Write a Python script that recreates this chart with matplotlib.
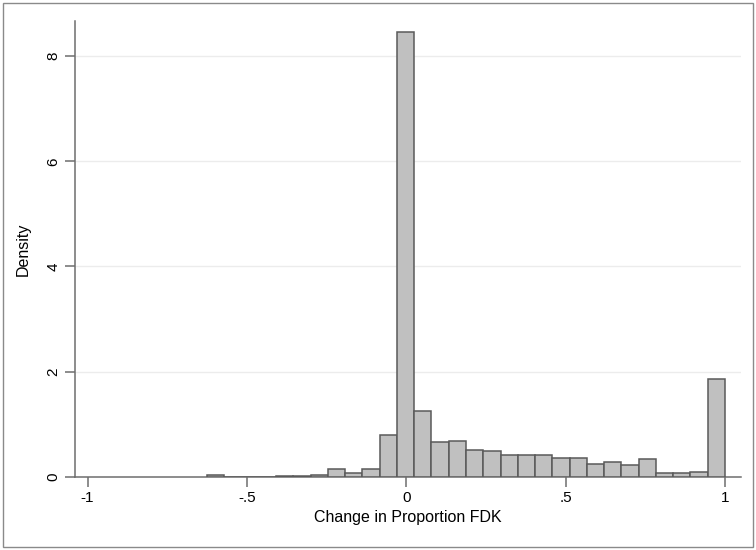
#histogram of change in proportion FDK, stata style
import numpy as np
import matplotlib.pyplot as plt
from matplotlib.patches import Rectangle

plt.rcParams['font.family'] = ['Liberation Sans', 'DejaVu Sans']

# 30 bins from -.625 to 1
bin_start = -0.625
bin_end = 1.0
n_bins = 30
density = [0.03, 0, 0, 0, 0.013, 0.015, 0.04, 0.14, 0.07, 0.14,
           0.79, 8.45, 1.25, 0.67, 0.68, 0.51, 0.49, 0.41, 0.42, 0.41,
           0.35, 0.35, 0.25, 0.285, 0.23, 0.34, 0.07, 0.07, 0.095, 1.86]
xticks = [-1, -0.5, 0, 0.5, 1]
xticklabels = ['-1', '-.5', '0', '.5', '1']
yticks = [0, 2, 4, 6, 8]

edges = np.linspace(bin_start, bin_end, n_bins + 1)
width = edges[1] - edges[0]

fig = plt.figure(figsize=(7.56, 5.5), dpi=100)
ax = fig.add_axes([0.099, 0.133, 0.881, 0.829])

ax.bar(edges[:-1], density, width=width, align='edge',
       color='#c0c0c0', edgecolor='#5a5a5a', linewidth=1.1, zorder=3)

ax.set_xlim(-1.04, 1.05)
ax.set_ylim(0, 8.67)
ax.set_xticks(xticks)
ax.set_xticklabels(xticklabels)
ax.set_yticks(yticks)
ax.set_yticklabels([str(t) for t in yticks], rotation=90, va='center')

# light horizontal grid, not at zero
for t in yticks[1:]:
    ax.axhline(t, color='#ececec', lw=1, zorder=1)

for s in ['top', 'right']:
    ax.spines[s].set_visible(False)
for s in ['left', 'bottom']:
    ax.spines[s].set_color('#6e6e6e')
    ax.spines[s].set_linewidth(1.1)
ax.tick_params(colors='#6e6e6e', labelcolor='black', length=7, width=1.1,
               labelsize=11)

ax.set_xlabel('Change in Proportion FDK', fontsize=11.5, labelpad=3)
ax.set_ylabel('Density', fontsize=11.5)
ax.yaxis.set_label_coords(-0.066, 0.5)

# outer frame
fig.patches.append(Rectangle((0.004, 0.006), 0.992, 0.988,
                             transform=fig.transFigure, fill=False,
                             edgecolor='#8a8a8a', lw=1))

plt.savefig('out.png', dpi=100)
